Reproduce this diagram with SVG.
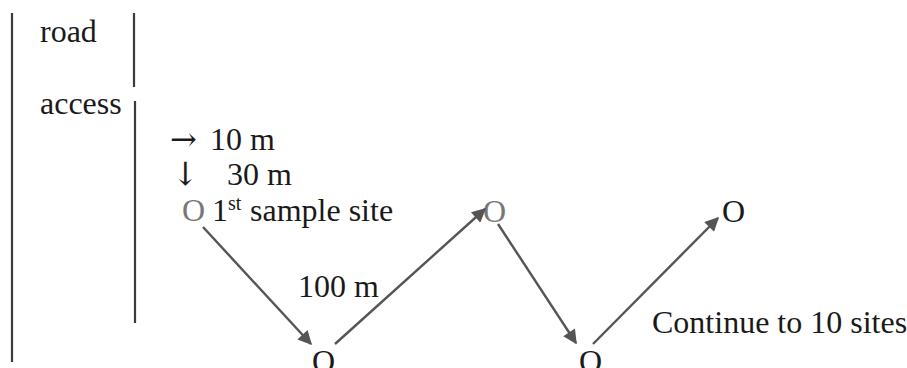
<svg xmlns="http://www.w3.org/2000/svg" width="907" height="368" viewBox="0 0 907 368">
<defs>
<style>
.t{font-family:'Liberation Serif','Times New Roman','DejaVu Serif',serif;font-size:32px;fill:#1a1a1a}
.sym{font-family:'DejaVu Serif','DejaVu Sans',serif}
.gray{fill:#777}
.bar{stroke:#3a3a3a;stroke-width:2.2;fill:none}
.conn{stroke:#555;stroke-width:2.4;fill:none;marker-end:url(#ah)}
</style>
<marker id="ah" viewBox="0 0 10 10" refX="9" refY="5" markerUnits="userSpaceOnUse" markerWidth="16" markerHeight="14" orient="auto">
<path d="M0,0 L10,5 L0,10 z" fill="#555"/>
</marker>
</defs>
<rect width="907" height="368" fill="#fff"/>
<g id="road-edges">
<line class="bar" x1="12" y1="13" x2="12" y2="362"/>
<line class="bar" x1="134" y1="13" x2="134" y2="87"/>
<line class="bar" x1="135" y1="101" x2="135" y2="323"/>
</g>
<g id="labels" class="t">
<text x="40" y="42">road</text>
<text x="40" y="114">access</text>
<text x="170" y="150"><tspan class="sym">→</tspan><tspan x="210">10 m</tspan></text>
<text x="172" y="185"><tspan class="sym">↓</tspan><tspan x="227">30 m</tspan></text>
<text x="298" y="297">100 m</text>
<text x="652" y="333">Continue to 10 sites</text>
</g>
<g id="site1" class="t">
<text class="gray" x="182" y="221">O</text>
<text x="212" y="221">1<tspan dy="-11" font-size="20">st</tspan><tspan x="250" dy="11">sample site</tspan></text>
</g>
<g id="site2" class="t"><text x="312" y="372">O</text></g>
<g id="site3" class="t"><text class="gray" x="483" y="222">O</text></g>
<g id="site4" class="t"><text x="579" y="372">O</text></g>
<g id="site5" class="t"><text x="722" y="222">O</text></g>
<g id="connectors">
<line class="conn" x1="203" y1="227" x2="311" y2="344"/>
<line class="conn" x1="335" y1="344" x2="485" y2="209"/>
<line class="conn" x1="498" y1="224" x2="576" y2="343"/>
<line class="conn" x1="593" y1="344" x2="718" y2="218"/>
</g>
</svg>
